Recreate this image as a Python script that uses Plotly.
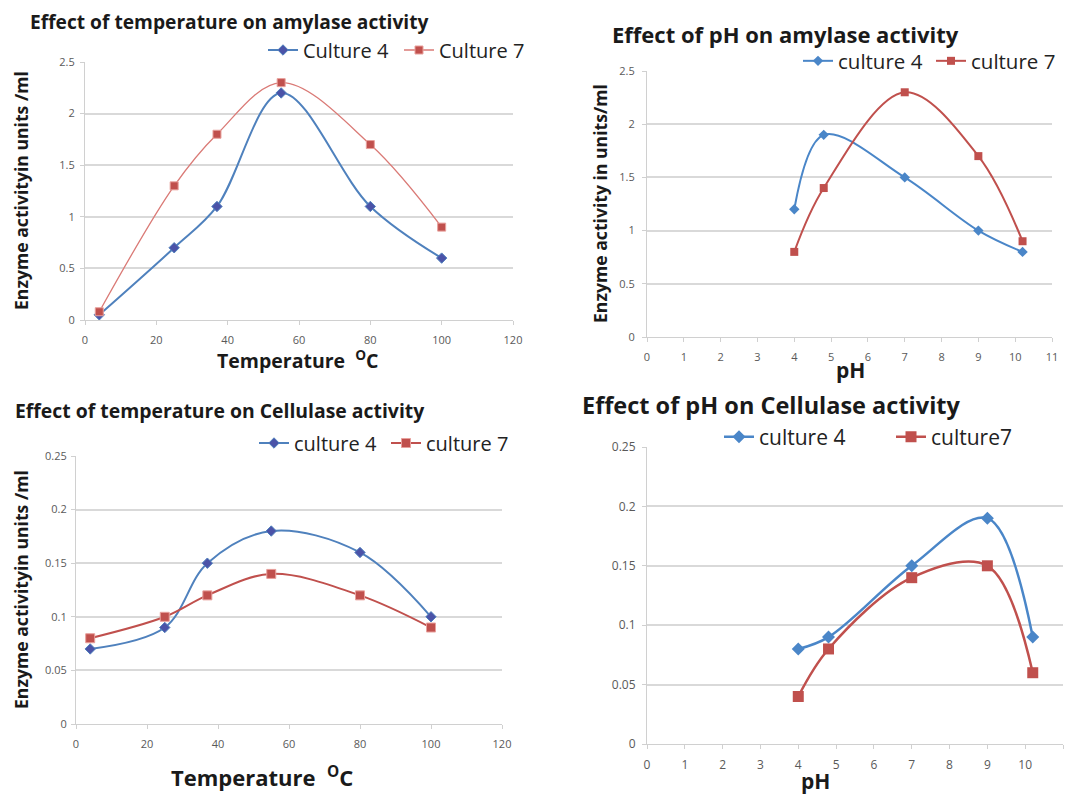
import plotly.graph_objects as go

# ---------------- data ----------------
temp = [4, 25, 37, 55, 80, 100]
ph = [4, 4.8, 7, 9, 10.2]

amy_temp_c4 = [0.05, 0.7, 1.1, 2.2, 1.1, 0.6]
amy_temp_c7 = [0.08, 1.3, 1.8, 2.3, 1.7, 0.9]
amy_ph_c4 = [1.2, 1.9, 1.5, 1.0, 0.8]
amy_ph_c7 = [0.8, 1.4, 2.3, 1.7, 0.9]
cel_temp_c4 = [0.07, 0.09, 0.15, 0.18, 0.16, 0.10]
cel_temp_c7 = [0.08, 0.10, 0.12, 0.14, 0.12, 0.09]
cel_ph_c4 = [0.08, 0.09, 0.15, 0.19, 0.09]
cel_ph_c7 = [0.04, 0.08, 0.14, 0.15, 0.06]

titles = ["Effect of temperature on amylase activity",
          "Effect of pH on amylase activity",
          "Effect of temperature on Cellulase activity",
          "Effect of pH on Cellulase activity"]

# page has an 8px body margin: figure fits inside the window
OFF = 8
W, H = 1074 - 2 * OFF, 802 - 2 * OFF
FONT = "Open Sans"

def px(x):
    return (x - OFF) / W

def py(y):
    return 1 - (y - OFF) / H

def dx(a, b):
    return [px(a), px(b)]

def dy(top, bottom):
    return [py(bottom), py(top)]

fig = go.Figure()

BLUE = "#4F81BD"
BLUE2 = "#4A86C8"
RED = "#C0504D"
RED_LIGHT = "#DA7A76"
PURPLE = "#4B53A8"

panels = [
    dict(xa="x", ya="y", lg="legend", xs=temp, c4=amy_temp_c4, c7=amy_temp_c7,
         n4="Culture 4", n7="Culture 7",
         c4line=dict(color=BLUE, width=2), c7line=dict(color=RED_LIGHT, width=1.3),
         c4mk=dict(symbol="diamond", size=8, color=PURPLE, line=dict(color=BLUE, width=1)),
         c7mk=dict(symbol="square", size=8, color=RED, line=dict(color="#E8A09C", width=1))),
    dict(xa="x2", ya="y2", lg="legend2", xs=ph, c4=amy_ph_c4, c7=amy_ph_c7,
         n4="culture 4", n7="culture 7",
         c4line=dict(color=BLUE2, width=2), c7line=dict(color=RED, width=2),
         c4mk=dict(symbol="diamond", size=8, color=BLUE2),
         c7mk=dict(symbol="square", size=8, color=RED)),
    dict(xa="x3", ya="y3", lg="legend3", xs=temp, c4=cel_temp_c4, c7=cel_temp_c7,
         n4="culture 4", n7="culture 7",
         c4line=dict(color=BLUE, width=2), c7line=dict(color=RED, width=2),
         c4mk=dict(symbol="diamond", size=8, color=PURPLE, line=dict(color=BLUE, width=1)),
         c7mk=dict(symbol="square", size=9, color=RED, line=dict(color="#E8A09C", width=1))),
    dict(xa="x4", ya="y4", lg="legend4", xs=ph, c4=cel_ph_c4, c7=cel_ph_c7,
         n4="culture 4", n7="culture7",
         c4line=dict(color=BLUE2, width=2.5), c7line=dict(color=RED, width=2.5),
         c4mk=dict(symbol="diamond", size=10, color=BLUE2),
         c7mk=dict(symbol="square", size=11, color=RED)),
]

for p in panels:
    fig.add_trace(go.Scatter(x=p["xs"], y=p["c4"], name=p["n4"], mode="lines+markers",
                             line=dict(shape="spline", smoothing=1.0, **p["c4line"]),
                             marker=p["c4mk"], xaxis=p["xa"], yaxis=p["ya"], legend=p["lg"]))
    fig.add_trace(go.Scatter(x=p["xs"], y=p["c7"], name=p["n7"], mode="lines+markers",
                             line=dict(shape="spline", smoothing=1.0, **p["c7line"]),
                             marker=p["c7mk"], xaxis=p["xa"], yaxis=p["ya"], legend=p["lg"]))

def xax(dom, rng, dt, anchor, fs, standoff):
    return dict(domain=dom, range=rng, dtick=dt, tick0=0, anchor=anchor,
                showgrid=False, showline=True, linecolor="#D0D0D0", linewidth=1,
                ticks="outside", ticklen=4, tickcolor="#D0D0D0", tickwidth=1,
                ticklabelstandoff=standoff,
                tickfont=dict(family=FONT, size=fs, color="#595959"),
                zeroline=False, fixedrange=True)

def yax(dom, rng, dt, anchor, fs, standoff):
    return dict(domain=dom, range=rng, dtick=dt, tick0=0, anchor=anchor,
                showgrid=True, gridcolor="#D9D9D9", gridwidth=1.5, showline=True,
                linecolor="#D0D0D0", linewidth=1,
                ticks="outside", ticklen=4, tickcolor="#D0D0D0", tickwidth=1,
                ticklabelstandoff=standoff,
                tickfont=dict(family=FONT, size=fs, color="#595959"),
                zeroline=False, fixedrange=True)

layout = dict(
    width=W, height=H, margin=dict(l=0, r=0, t=0, b=0, autoexpand=False),
    paper_bgcolor="white", plot_bgcolor="white",
    font=dict(family=FONT),
    showlegend=True,
    xaxis=xax(dx(85, 513), [0, 120], 20, "y", 11, 6),
    yaxis=yax(dy(62, 320), [0, 2.5], 0.5, "x", 11, 3),
    xaxis2=xax(dx(647, 1052), [0, 11], 1, "y2", 11, 6),
    yaxis2=yax(dy(71, 337), [0, 2.5], 0.5, "x2", 11, 5),
    xaxis3=xax(dx(76, 502), [0, 120], 20, "y3", 11, 6),
    yaxis3=yax(dy(456, 724), [0, 0.25], 0.05, "x3", 11, 2),
    xaxis4=xax(dx(647, 1063), [0, 11], 1, "y4", 12, 6),
    yaxis4=yax(dy(447, 744), [0, 0.25], 0.05, "x4", 12, 4),
)

def leg(x, y, size, width):
    return dict(x=px(x), y=py(y), xanchor="left", yanchor="middle", orientation="h",
                bgcolor="rgba(0,0,0,0)", font=dict(family=FONT, size=size, color="#222222"),
                itemwidth=30, tracegroupgap=0, entrywidth=width, entrywidthmode="pixels")

layout["legend"] = leg(263, 50, 20, 91)
layout["legend2"] = leg(798, 61, 20.5, 88)
layout["legend3"] = leg(254, 443, 20, 87)
layout["legend4"] = leg(719, 437, 21, 127)

fig.update_layout(**layout)

ann = []
def text(x, y, s, size, anchor="left", angle=0, bold=True, color="#1a1a1a"):
    ann.append(dict(x=px(x), y=py(y), xref="paper", yref="paper",
                    text=("<b>%s</b>" % s) if bold else s,
                    showarrow=False, xanchor=anchor, yanchor="middle", textangle=angle,
                    font=dict(family=FONT, size=size, color=color)))

text(28, 22, titles[0], 19.2)
text(610, 34, titles[1], 22)
text(13, 411, titles[2], 19.4)
text(580, 405, titles[3], 23.5)

text(21, 191, "Enzyme activityin units /ml", 17.6, anchor="center", angle=-90)
text(600, 204, "Enzyme activity in units/ml", 17.6, anchor="center", angle=-90)
text(21, 590, "Enzyme activityin units /ml", 17.6, anchor="center", angle=-90)

text(298, 359, "Temperature  <sup>O</sup>C", 19.5, anchor="center")
text(850, 370, "pH", 21, anchor="center")
text(262, 776, "Temperature  <sup>O</sup>C", 22, anchor="center")
text(815, 781, "pH", 21, anchor="center")

fig.update_layout(annotations=ann)
fig.write_html("out.html")
